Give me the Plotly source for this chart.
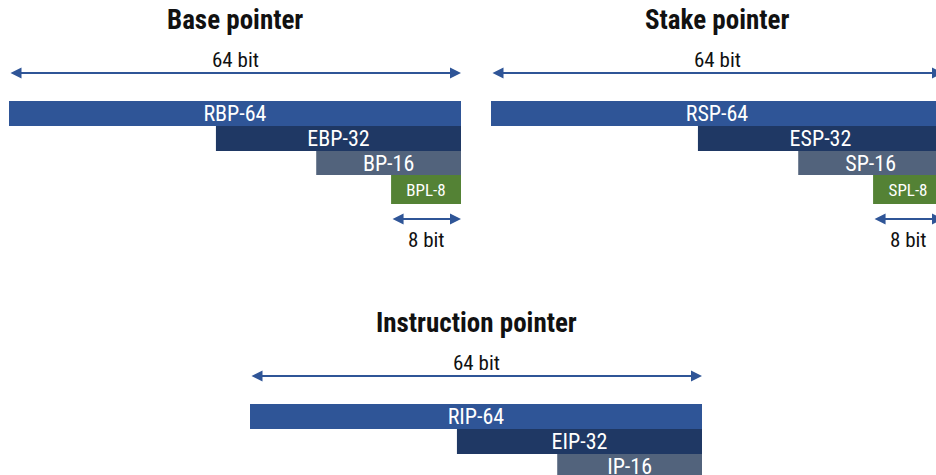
import plotly.graph_objects as go

W, H = 936, 475

# register names of each diagram, longest first
base_regs = ["RBP-64", "EBP-32", "BP-16", "BPL-8"]
stake_regs = ["RSP-64", "ESP-32", "SP-16", "SPL-8"]
instr_regs = ["RIP-64", "EIP-32", "IP-16"]

# drawn bar lengths, measured in units of the full 64 bit bar
bar_len = [64, 34.7, 20.5, 9.9]

titles = ["Base pointer", "Stake pointer", "Instruction pointer"]
full_label = "64 bit"
low_label = "8 bit"
full_bits = 64

# style / layout
colors = ["#2F5597", "#1F3864", "#52637C", "#548235"]
row_h = [25, 25, 24, 29]
label_size = [22, 22, 22, 17]
arrow_col = "#2F5597"
font = "Liberation Sans Narrow, Roboto Condensed, DejaVu Sans Condensed, Roboto, sans-serif"
px_per_unit = 452 / 64

# (left px, top of first bar px) per panel
panels = [(9, 101), (491, 101), (250, 404)]
regs_all = [base_regs, stake_regs, instr_regs]

fig = go.Figure()
annotations = []
layout_axes = {}

for i, ((left, top), regs) in enumerate(zip(panels, regs_all)):
    n = i + 1
    sfx = "" if n == 1 else str(n)
    xa, ya = "x" + sfx, "y" + sfx
    x1 = min(left + 452, W)
    yt = max(top - 101, 0)
    yb = min(top + 150, H)
    layout_axes["xaxis" + sfx] = dict(
        domain=[left / W, x1 / W], range=[0, (x1 - left) / px_per_unit],
        visible=False, fixedrange=True, anchor=ya)
    layout_axes["yaxis" + sfx] = dict(
        domain=[1 - yb / H, 1 - yt / H], range=[yb - top, yt - top],
        visible=False, fixedrange=True, anchor=xa)

    k = len(regs)
    lens = bar_len[:k]
    centers, acc = [], 0
    for h in row_h[:k]:
        centers.append(acc + h / 2)
        acc += h

    fig.add_trace(go.Bar(
        x=lens, base=[full_bits - l for l in lens], y=centers, width=row_h[:k],
        orientation="h", marker=dict(color=colors[:k], line_width=0),
        text=regs, textposition="inside", insidetextanchor="middle", constraintext="none",
        textfont=dict(color="white", size=label_size[:k], family=font),
        cliponaxis=True, showlegend=False, hoverinfo="skip",
        xaxis=xa, yaxis=ya))

    # title and 64 bit arrow
    annotations.append(dict(x=full_bits / 2, y=-81, xref=xa, yref=ya, text=f"<b>{titles[i]}</b>",
                            showarrow=False, font=dict(size=27, color="#111111", family=font)))
    annotations.append(dict(x=full_bits / 2, y=-41, xref=xa, yref=ya, text=full_label,
                            showarrow=False, font=dict(size=21, color="#111111", family=font)))
    annotations.append(dict(x=full_bits, y=-28, ax=0, ay=-28, xref=xa, yref=ya, axref=xa, ayref=ya,
                            text="", showarrow=True, arrowside="end+start", arrowhead=2, startarrowhead=2,
                            arrowsize=1.1, startarrowsize=1.1, arrowwidth=2, arrowcolor=arrow_col))
    # 8 bit arrow under the lowest byte
    if k == 4:
        low_y = sum(row_h) + 15
        annotations.append(dict(x=full_bits, y=low_y, ax=full_bits - bar_len[3], ay=low_y,
                                xref=xa, yref=ya, axref=xa, ayref=ya, text="", showarrow=True,
                                arrowside="end+start", arrowhead=2, startarrowhead=2,
                                arrowsize=1.1, startarrowsize=1.1, arrowwidth=2, arrowcolor=arrow_col))
        annotations.append(dict(x=full_bits - bar_len[3] / 2, y=low_y + 21, xref=xa, yref=ya,
                                text=low_label, showarrow=False,
                                font=dict(size=21, color="#111111", family=font)))

fig.update_layout(
    width=W, height=H,
    margin=dict(l=0, r=0, t=0, b=0),
    paper_bgcolor="white", plot_bgcolor="rgba(0,0,0,0)",
    barmode="overlay",
    annotations=annotations,
    font=dict(family=font),
    **layout_axes,
)

# drop the default body margin so the figure fills the window exactly
fig.write_html("out.html", config={"displayModeBar": False},
               post_script="document.body.style.margin='0';document.body.style.overflow='hidden';")
